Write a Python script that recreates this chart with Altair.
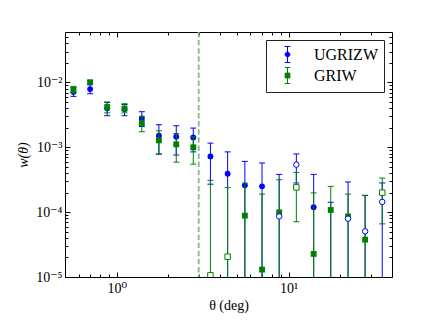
import altair as alt
import pandas as pd

# ---------------- data ----------------
theta = [0.56, 0.70, 0.88, 1.11, 1.40, 1.76, 2.22, 2.79, 3.51, 4.42,
         5.57, 7.01, 8.82, 11.1, 14.0, 17.6, 22.2, 27.9, 35.1]

# UGRIZW (blue circles); None in lo -> error bar runs below the axis
u_val = [7.1e-3, 7.9e-3, 4.0e-3, 3.87e-3, 2.79e-3, 1.51e-3, 1.46e-3, 1.42e-3,
         7.24e-4, 3.92e-4, 2.59e-4, 2.5e-4, 8.6e-5, 5.4e-4, 1.19e-4, None,
         7.94e-5, 5.06e-5, 1.44e-4]
u_lo = [6.1e-3, 6.7e-3, 3.07e-3, 3.07e-3, 2.1e-3, 7.9e-4, 7.6e-4, 8.5e-4,
        2.7e-4, None, None, None, None, 2.82e-4, None, None, None, None, None]
u_hi = [8.3e-3, 9.2e-3, 4.92e-3, 4.58e-3, 3.54e-3, 2.23e-3, 2.15e-3, 1.98e-3,
        1.16e-3, 8.5e-4, 6.07e-4, 5.73e-4, 3.82e-4, 7.9e-4, 3.82e-4, 1.42e-4,
        2.92e-4, 1.82e-4, 2.82e-4]
u_open = [0, 0, 0, 0, 0, 0, 0, 0, 0, 0, 0, 0, 1, 1, 0, 0, 1, 1, 1]

# GRIW (green squares)
g_val = [7.7e-3, 1.01e-2, 4.18e-3, 3.97e-3, 2.37e-3, 1.28e-3, 1.11e-3, 1.0e-3,
         1.06e-5, 2.06e-5, 8.83e-5, 1.3e-5, 9.9e-5, 2.41e-4, 2.27e-5, 1.08e-4,
         8.6e-5, 3.77e-5, 2.0e-4]
g_lo = [6.9e-3, 9.5e-3, 3.4e-3, 3.4e-3, 1.74e-3, 7.8e-4, 5.9e-4, 5.5e-4,
        None, None, None, None, None, 7.1e-5, None, None, None, None, 6.6e-5]
g_hi = [8.7e-3, 1.07e-2, 5.0e-3, 4.7e-3, 3.0e-3, 1.8e-3, 1.63e-3, 1.45e-3,
        3.09e-4, 2.39e-4, 2.8e-4, 1.9e-4, 3.16e-4, 4.1e-4, 1.98e-4, 2.5e-4,
        1.9e-4, 1.8e-4, 3.36e-4]
g_open = [0, 0, 0, 0, 0, 0, 0, 0, 1, 1, 0, 0, 0, 1, 0, 0, 0, 0, 1]

series_names = ["UGRIZW", "GRIW"]
series_colors = ["#0000ff", "#008000"]
cut_theta = [3.0]

x_domain = [0.5, 40]
y_domain = [1e-5, 0.06]
x_major = [1, 10]
x_minor = [0.6, 0.7, 0.8, 0.9, 2, 3, 4, 5, 6, 7, 8, 9, 20, 30]
y_major = [1e-5, 1e-4, 1e-3, 1e-2]
y_minor = [m * 10.0 ** k for k in (-5, -4, -3) for m in range(2, 10)] + [0.02, 0.03, 0.04, 0.05]

SERIF = "Liberation Serif, DejaVu Serif, serif"

# ---------------- tables ----------------
rows, caps = [], []
for name, val, lo, hi, op in [("UGRIZW", u_val, u_lo, u_hi, u_open),
                              ("GRIW", g_val, g_lo, g_hi, g_open)]:
    for i, t in enumerate(theta):
        rows.append(dict(series=name, x=t, val=val[i],
                         lo=lo[i] if lo[i] is not None else y_domain[0],
                         hi=hi[i], open=op[i]))
        if lo[i] is not None:
            caps.append(dict(series=name, x=t, val=lo[i]))
        caps.append(dict(series=name, x=t, val=hi[i]))
df = pd.DataFrame(rows)
dfc = pd.DataFrame(caps)
dfp = df.dropna(subset=["val"])
dfl = pd.DataFrame({"x": cut_theta})

xs = alt.Scale(type="log", domain=x_domain, nice=False)
ys = alt.Scale(type="log", domain=y_domain, nice=False)
cs = alt.Scale(domain=series_names, range=series_colors)

circle_path = "M-0.3,0A0.3,0.3,0,1,1,0.3,0A0.3,0.3,0,1,1,-0.3,0ZM0,-1L0,1M-0.35,-1L0.35,-1M-0.35,1L0.35,1"
square_path = "M-0.3,-0.3L0.3,-0.3L0.3,0.3L-0.3,0.3ZM0,-1L0,1M-0.35,-1L0.35,-1M-0.35,1L0.35,1"

legend = alt.Legend(
    title="", orient="top-right", offset=8, padding=6,
    strokeColor="#222222", fillColor="white",
    symbolSize=256, symbolStrokeWidth=1, symbolOffset=7, symbolOpacity=1,
    labelFont=SERIF, labelFontSize=16, labelColor="black", labelOffset=18,
    rowPadding=0,
)


def col():
    return alt.Color("series:N", scale=cs, legend=None)


def tick_axis(orient, values, size):
    return alt.Axis(orient=orient, values=values, labels=False, ticks=True,
                    tickSize=size, tickColor="black", tickWidth=1,
                    offset=-size, domain=False, grid=False, title="")


def axis_layer(xa, ya):
    return alt.Chart(dfp).mark_point(opacity=0, size=1).encode(
        x=alt.X("x:Q", scale=xs, axis=xa),
        y=alt.Y("val:Q", scale=ys, axis=ya),
    )


x_lab = alt.Axis(orient="bottom", values=x_major,
                 labelExpr="datum.value < 5 ? '10⁰' : '10¹'",
                 ticks=False, domain=False, grid=False,
                 labelFont=SERIF, labelFontSize=14, labelColor="black", labelPadding=4,
                 title="θ (deg)", titleFont=SERIF, titleFontSize=14,
                 titleFontWeight="normal", titleColor="black", titlePadding=3)
y_lab = alt.Axis(orient="left", values=y_major,
                 labelExpr="datum.value < 2e-5 ? '10⁻⁵' : datum.value < 2e-4 ? '10⁻⁴' : datum.value < 2e-3 ? '10⁻³' : '10⁻²'",
                 ticks=False, domain=False, grid=False,
                 labelFont=SERIF, labelFontSize=14, labelColor="black", labelPadding=3,
                 title="w(θ)", titleFont=SERIF, titleFontSize=14, titleFontStyle="italic",
                 titleFontWeight="normal", titleColor="black", titlePadding=5)

layers = [
    axis_layer(x_lab, y_lab),
    axis_layer(tick_axis("bottom", x_major, 5), tick_axis("left", y_major, 5)),
    axis_layer(tick_axis("bottom", x_minor, 3), tick_axis("left", y_minor, 3)),
    axis_layer(tick_axis("top", x_major, 5), tick_axis("right", y_major, 5)),
    axis_layer(tick_axis("top", x_minor, 3), tick_axis("right", y_minor, 3)),
    alt.Chart(dfl).mark_rule(color="#7fbf7f", strokeWidth=1.8, strokeDash=[5.5, 2.6]).encode(
        x=alt.X("x:Q", scale=xs, axis=None)),
    # invisible layer that only carries the legend (symbols = marker with error bar)
    alt.Chart(dfp).mark_point(opacity=0, size=1).encode(
        x=alt.X("x:Q", scale=xs, axis=None),
        y=alt.Y("val:Q", scale=ys, axis=None),
        fill=alt.Fill("series:N", scale=cs, legend=legend),
        stroke=alt.Stroke("series:N", scale=cs, legend=legend),
        shape=alt.Shape("series:N", scale=alt.Scale(domain=series_names, range=[circle_path, square_path]),
                        legend=legend),
    ),
]

for name, shape in [("UGRIZW", "circle"), ("GRIW", "square")]:
    sub = df[df.series == name]
    subc = dfc[dfc.series == name]
    subp = dfp[(dfp.series == name) & (dfp.open == 0)]
    layers.append(alt.Chart(sub).mark_rule(strokeWidth=1, clip=True).encode(
        x=alt.X("x:Q", scale=xs, axis=None),
        y=alt.Y("lo:Q", scale=ys, axis=None), y2="hi:Q",
        color=col()))
    layers.append(alt.Chart(subc).mark_tick(orient="horizontal", size=6, thickness=1, clip=True, opacity=1).encode(
        x=alt.X("x:Q", scale=xs, axis=None),
        y=alt.Y("val:Q", scale=ys, axis=None),
        color=col()))
    layers.append(alt.Chart(subp).mark_point(filled=True, shape=shape, size=34, opacity=1, clip=True).encode(
        x=alt.X("x:Q", scale=xs, axis=None),
        y=alt.Y("val:Q", scale=ys, axis=None),
        color=col()))

for name, shape in [("UGRIZW", "circle"), ("GRIW", "square")]:
    subo = dfp[(dfp.series == name) & (dfp.open == 1)]
    layers.append(alt.Chart(subo).mark_point(filled=False, fill="white", shape=shape, size=30,
                                             strokeWidth=1, opacity=1, clip=True).encode(
        x=alt.X("x:Q", scale=xs, axis=None),
        y=alt.Y("val:Q", scale=ys, axis=None),
        color=col()))

chart = alt.layer(*layers).resolve_axis(x="independent", y="independent").properties(
    width=327, height=245,
    autosize=alt.AutoSizeParams(type="none"),
    padding={"left": 57, "top": 24, "right": 28, "bottom": 40},
    background="white",
).configure_view(stroke="black", strokeWidth=1)

chart.save("out.html", embed_options={"renderer": "svg", "actions": False})
